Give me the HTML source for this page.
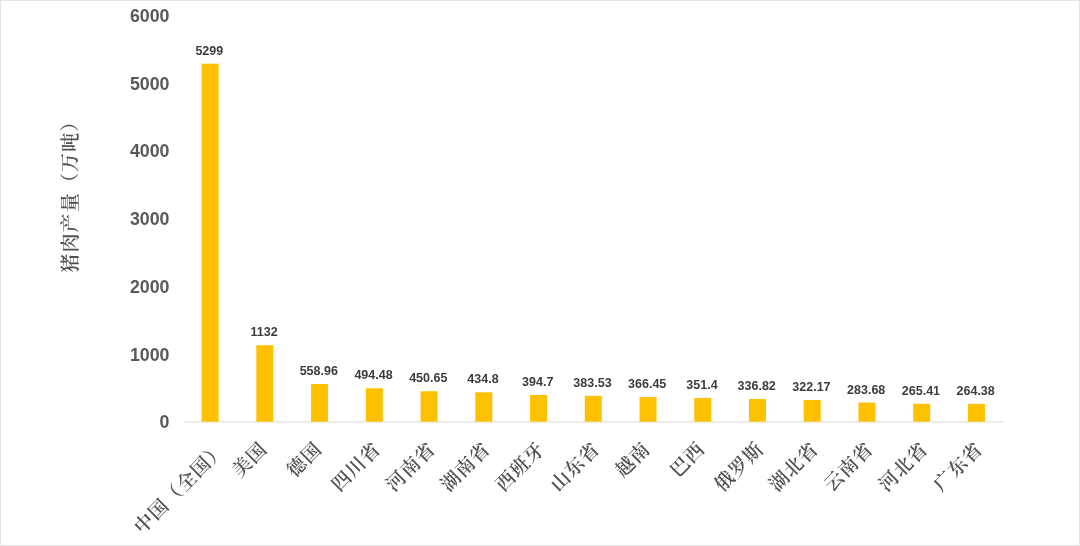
<!DOCTYPE html>
<html lang="zh-CN">
<head>
<meta charset="utf-8">
<title>猪肉产量</title>
<style>
html,body{margin:0;padding:0;background:#fff;}
body{width:1080px;height:546px;overflow:hidden;position:relative;}
svg{display:block;position:absolute;left:0;top:0;}
.yl{font-family:"Liberation Sans",sans-serif;font-weight:bold;font-size:17.8px;fill:#595959;text-anchor:end;}
.vl{font-family:"Liberation Sans",sans-serif;font-weight:bold;font-size:12.5px;fill:#3c3c3c;text-anchor:middle;}
.cl{font-family:"Liberation Serif","Noto Serif CJK SC",serif;font-weight:600;font-size:19px;letter-spacing:1px;fill:#505050;text-anchor:end;}
.ti{font-family:"Liberation Serif","Noto Serif CJK SC",serif;font-weight:600;font-size:19px;letter-spacing:1.17px;fill:#505050;text-anchor:middle;}
</style>
</head>
<body>
<svg width="1080" height="546" viewBox="0 0 1080 546">
<rect x="0" y="0" width="1080" height="546" fill="#ffffff"/>
<rect x="0.5" y="0.5" width="1079" height="545" fill="none" stroke="#e2e2e2" stroke-width="1"/>
<rect x="183.8" y="421.4" width="820.2" height="1" fill="#dadada"/>
<rect x="201.60" y="63.70" width="17.0" height="358.00" fill="#FFC000"/>
<text class="vl" x="209.30" y="54.70">5299</text>
<text class="cl" transform="translate(226.90,450.00) rotate(-45)" x="0" y="0">中国（全国）</text>
<rect x="256.34" y="345.22" width="17.0" height="76.48" fill="#FFC000"/>
<text class="vl" x="264.04" y="336.22">1132</text>
<text class="cl" transform="translate(268.34,450.00) rotate(-45)" x="0" y="0">美国</text>
<rect x="311.08" y="383.94" width="17.0" height="37.76" fill="#FFC000"/>
<text class="vl" x="318.78" y="374.94">558.96</text>
<text class="cl" transform="translate(323.08,450.00) rotate(-45)" x="0" y="0">德国</text>
<rect x="365.82" y="388.29" width="17.0" height="33.41" fill="#FFC000"/>
<text class="vl" x="373.52" y="379.29">494.48</text>
<text class="cl" transform="translate(381.82,450.00) rotate(-45)" x="0" y="0">四川省</text>
<rect x="420.56" y="391.25" width="17.0" height="30.45" fill="#FFC000"/>
<text class="vl" x="428.26" y="382.25">450.65</text>
<text class="cl" transform="translate(436.56,450.00) rotate(-45)" x="0" y="0">河南省</text>
<rect x="475.30" y="392.32" width="17.0" height="29.38" fill="#FFC000"/>
<text class="vl" x="483.00" y="383.32">434.8</text>
<text class="cl" transform="translate(491.30,450.00) rotate(-45)" x="0" y="0">湖南省</text>
<rect x="530.04" y="395.03" width="17.0" height="26.67" fill="#FFC000"/>
<text class="vl" x="537.74" y="386.03">394.7</text>
<text class="cl" transform="translate(546.04,450.00) rotate(-45)" x="0" y="0">西班牙</text>
<rect x="584.78" y="395.79" width="17.0" height="25.91" fill="#FFC000"/>
<text class="vl" x="592.48" y="386.79">383.53</text>
<text class="cl" transform="translate(600.78,450.00) rotate(-45)" x="0" y="0">山东省</text>
<rect x="639.52" y="396.94" width="17.0" height="24.76" fill="#FFC000"/>
<text class="vl" x="647.22" y="387.94">366.45</text>
<text class="cl" transform="translate(651.52,450.00) rotate(-45)" x="0" y="0">越南</text>
<rect x="694.26" y="397.96" width="17.0" height="23.74" fill="#FFC000"/>
<text class="vl" x="701.96" y="388.96">351.4</text>
<text class="cl" transform="translate(706.26,450.00) rotate(-45)" x="0" y="0">巴西</text>
<rect x="749.00" y="398.94" width="17.0" height="22.76" fill="#FFC000"/>
<text class="vl" x="756.70" y="389.94">336.82</text>
<text class="cl" transform="translate(765.00,450.00) rotate(-45)" x="0" y="0">俄罗斯</text>
<rect x="803.74" y="399.93" width="17.0" height="21.77" fill="#FFC000"/>
<text class="vl" x="811.44" y="390.93">322.17</text>
<text class="cl" transform="translate(819.74,450.00) rotate(-45)" x="0" y="0">湖北省</text>
<rect x="858.48" y="402.53" width="17.0" height="19.17" fill="#FFC000"/>
<text class="vl" x="866.18" y="393.53">283.68</text>
<text class="cl" transform="translate(874.48,450.00) rotate(-45)" x="0" y="0">云南省</text>
<rect x="913.22" y="403.77" width="17.0" height="17.93" fill="#FFC000"/>
<text class="vl" x="920.92" y="394.77">265.41</text>
<text class="cl" transform="translate(929.22,450.00) rotate(-45)" x="0" y="0">河北省</text>
<rect x="967.96" y="403.84" width="17.0" height="17.86" fill="#FFC000"/>
<text class="vl" x="975.66" y="394.84">264.38</text>
<text class="cl" transform="translate(983.96,450.00) rotate(-45)" x="0" y="0">广东省</text>
<text class="yl" x="169.5" y="428.20">0</text>
<text class="yl" x="169.5" y="360.52">1000</text>
<text class="yl" x="169.5" y="292.84">2000</text>
<text class="yl" x="169.5" y="225.16">3000</text>
<text class="yl" x="169.5" y="157.48">4000</text>
<text class="yl" x="169.5" y="89.80">5000</text>
<text class="yl" x="169.5" y="22.12">6000</text>
<text class="ti" transform="translate(76.5,192.1) rotate(-90)" x="0" y="0">猪肉产量（万吨）</text>
</svg>
</body>
</html>
